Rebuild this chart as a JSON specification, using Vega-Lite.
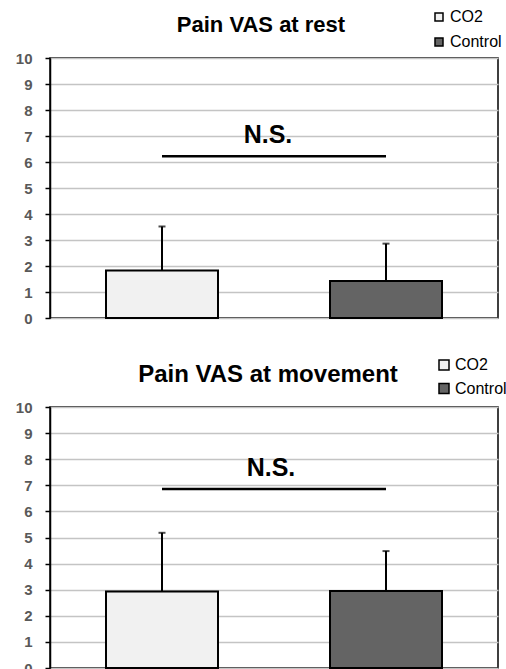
{
  "$schema": "https://vega.github.io/schema/vega-lite/v6.json",
  "padding": {"left": 14, "top": 8, "right": 0, "bottom": 0},
  "spacing": {"row": 29, "column": 0},
  "columns": 1,
  "align": "none",
  "resolve": {"scale": {"fill": "independent"}, "legend": {"fill": "independent"}},
  "config": {
    "font": "Liberation Sans",
    "view": {"stroke": "#000000", "strokeWidth": 1.5},
    "legend": {
      "orient": "none",
      "title": null,
      "padding": 0,
      "labelFont": "Liberation Sans",
      "labelFontSize": 16,
      "labelColor": "#000000",
      "labelOffset": 3,
      "labelLimit": 200,
      "symbolType": "square",
      "symbolStrokeColor": "#000000",
      "symbolStrokeWidth": 1.5
    }
  },
  "datasets": {
    "rest": [
      {"group": "CO2", "mean": 1.83, "upper": 3.52},
      {"group": "Control", "mean": 1.42, "upper": 2.86}
    ],
    "restSig": [
      {"from": "CO2", "to": "Control", "line": 6.22, "labelY": 6.72, "label": "N.S."}
    ],
    "movement": [
      {"group": "CO2", "mean": 2.93, "upper": 5.18},
      {"group": "Control", "mean": 2.95, "upper": 4.48}
    ],
    "movementSig": [
      {"from": "CO2", "to": "Control", "line": 6.86, "labelY": 7.36, "label": "N.S."}
    ]
  },
  "concat": [
    {
      "width": 448,
      "height": 260,
      "title": {"text": "Pain VAS at rest", "fontSize": 22, "fontWeight": "bold", "color": "#000000", "frame": "group", "anchor": "middle", "baseline": "alphabetic", "offset": -45, "dx": -13},
      "layer": [
        {
          "data": {"name": "rest"},
          "mark": {"type": "bar", "stroke": "#000000", "strokeWidth": 2},
          "encoding": {
            "x": {"field": "group", "type": "nominal", "scale": {"domain": ["CO2", "Control"], "paddingInner": 0.5, "paddingOuter": 0.25}, "axis": null},
            "y": {"field": "mean", "type": "quantitative", "stack": null, "scale": {"domain": [0, 10], "nice": false},
              "axis": {"title": null, "values": [0, 1, 2, 3, 4, 5, 6, 7, 8, 9, 10], "grid": true, "gridColor": "#c4c4c4", "gridWidth": 1.5, "domainColor": "#000000", "domainWidth": 1.5, "tickColor": "#000000", "tickSize": 5, "tickWidth": 1.5, "labelFont": "Liberation Sans", "labelFontSize": 15, "labelFontWeight": "bold", "labelColor": "#595959", "labelPadding": 13, "labelOverlap": false}},
            "fill": {"field": "group", "type": "nominal", "scale": {"domain": ["CO2", "Control"], "range": ["#f1f1f1", "#646464"]}, "legend": {"legendX": 381, "legendY": -49, "symbolSize": 64, "rowPadding": 9}}
          }
        },
        {
          "data": {"name": "rest"},
          "mark": {"type": "rule", "color": "#000000", "strokeWidth": 2},
          "encoding": {
            "x": {"field": "group", "type": "nominal", "axis": null},
            "y": {"field": "mean", "type": "quantitative",
              "axis": {"title": null, "values": [0, 1, 2, 3, 4, 5, 6, 7, 8, 9, 10], "grid": true, "gridColor": "#c4c4c4", "gridWidth": 1.5, "domainColor": "#000000", "domainWidth": 1.5, "tickColor": "#000000", "tickSize": 5, "tickWidth": 1.5, "labelFont": "Liberation Sans", "labelFontSize": 15, "labelFontWeight": "bold", "labelColor": "#595959", "labelPadding": 13, "labelOverlap": false}},
            "y2": {"field": "upper"}
          }
        },
        {
          "data": {"name": "rest"},
          "mark": {"type": "tick", "color": "#000000", "size": 7, "thickness": 2},
          "encoding": {
            "x": {"field": "group", "type": "nominal", "axis": null},
            "y": {"field": "upper", "type": "quantitative",
              "axis": {"title": null, "values": [0, 1, 2, 3, 4, 5, 6, 7, 8, 9, 10], "grid": true, "gridColor": "#c4c4c4", "gridWidth": 1.5, "domainColor": "#000000", "domainWidth": 1.5, "tickColor": "#000000", "tickSize": 5, "tickWidth": 1.5, "labelFont": "Liberation Sans", "labelFontSize": 15, "labelFontWeight": "bold", "labelColor": "#595959", "labelPadding": 13, "labelOverlap": false}}
          }
        },
        {
          "data": {"name": "restSig"},
          "mark": {"type": "rule", "color": "#000000", "strokeWidth": 2.5},
          "encoding": {
            "x": {"field": "from", "type": "nominal", "axis": null},
            "x2": {"field": "to"},
            "y": {"field": "line", "type": "quantitative",
              "axis": {"title": null, "values": [0, 1, 2, 3, 4, 5, 6, 7, 8, 9, 10], "grid": true, "gridColor": "#c4c4c4", "gridWidth": 1.5, "domainColor": "#000000", "domainWidth": 1.5, "tickColor": "#000000", "tickSize": 5, "tickWidth": 1.5, "labelFont": "Liberation Sans", "labelFontSize": 15, "labelFontWeight": "bold", "labelColor": "#595959", "labelPadding": 13, "labelOverlap": false}}
          }
        },
        {
          "data": {"name": "restSig"},
          "mark": {"type": "text", "fontSize": 25, "fontWeight": "bold", "color": "#000000", "baseline": "alphabetic", "align": "center", "dx": -6},
          "encoding": {
            "y": {"field": "labelY", "type": "quantitative",
              "axis": {"title": null, "values": [0, 1, 2, 3, 4, 5, 6, 7, 8, 9, 10], "grid": true, "gridColor": "#c4c4c4", "gridWidth": 1.5, "domainColor": "#000000", "domainWidth": 1.5, "tickColor": "#000000", "tickSize": 5, "tickWidth": 1.5, "labelFont": "Liberation Sans", "labelFontSize": 15, "labelFontWeight": "bold", "labelColor": "#595959", "labelPadding": 13, "labelOverlap": false}},
            "text": {"field": "label"}
          }
        }
      ]
    },
    {
      "width": 448,
      "height": 261,
      "title": {"text": "Pain VAS at movement", "fontSize": 24, "fontWeight": "bold", "color": "#000000", "frame": "group", "anchor": "middle", "baseline": "alphabetic", "offset": -49, "dx": -6},
      "layer": [
        {
          "data": {"name": "movement"},
          "mark": {"type": "bar", "stroke": "#000000", "strokeWidth": 2},
          "encoding": {
            "x": {"field": "group", "type": "nominal", "scale": {"domain": ["CO2", "Control"], "paddingInner": 0.5, "paddingOuter": 0.25}, "axis": null},
            "y": {"field": "mean", "type": "quantitative", "stack": null, "scale": {"domain": [0, 10], "nice": false},
              "axis": {"title": null, "values": [0, 1, 2, 3, 4, 5, 6, 7, 8, 9, 10], "grid": true, "gridColor": "#c4c4c4", "gridWidth": 1.5, "domainColor": "#000000", "domainWidth": 1.5, "tickColor": "#000000", "tickSize": 5, "tickWidth": 1.5, "labelFont": "Liberation Sans", "labelFontSize": 15, "labelFontWeight": "bold", "labelColor": "#595959", "labelPadding": 13, "labelOverlap": false}},
            "fill": {"field": "group", "type": "nominal", "scale": {"domain": ["CO2", "Control"], "range": ["#f1f1f1", "#646464"]}, "legend": {"legendX": 386, "legendY": -50, "symbolSize": 100, "rowPadding": 7.5}}
          }
        },
        {
          "data": {"name": "movement"},
          "mark": {"type": "rule", "color": "#000000", "strokeWidth": 2},
          "encoding": {
            "x": {"field": "group", "type": "nominal", "axis": null},
            "y": {"field": "mean", "type": "quantitative",
              "axis": {"title": null, "values": [0, 1, 2, 3, 4, 5, 6, 7, 8, 9, 10], "grid": true, "gridColor": "#c4c4c4", "gridWidth": 1.5, "domainColor": "#000000", "domainWidth": 1.5, "tickColor": "#000000", "tickSize": 5, "tickWidth": 1.5, "labelFont": "Liberation Sans", "labelFontSize": 15, "labelFontWeight": "bold", "labelColor": "#595959", "labelPadding": 13, "labelOverlap": false}},
            "y2": {"field": "upper"}
          }
        },
        {
          "data": {"name": "movement"},
          "mark": {"type": "tick", "color": "#000000", "size": 7, "thickness": 2},
          "encoding": {
            "x": {"field": "group", "type": "nominal", "axis": null},
            "y": {"field": "upper", "type": "quantitative",
              "axis": {"title": null, "values": [0, 1, 2, 3, 4, 5, 6, 7, 8, 9, 10], "grid": true, "gridColor": "#c4c4c4", "gridWidth": 1.5, "domainColor": "#000000", "domainWidth": 1.5, "tickColor": "#000000", "tickSize": 5, "tickWidth": 1.5, "labelFont": "Liberation Sans", "labelFontSize": 15, "labelFontWeight": "bold", "labelColor": "#595959", "labelPadding": 13, "labelOverlap": false}}
          }
        },
        {
          "data": {"name": "movementSig"},
          "mark": {"type": "rule", "color": "#000000", "strokeWidth": 2.5},
          "encoding": {
            "x": {"field": "from", "type": "nominal", "axis": null},
            "x2": {"field": "to"},
            "y": {"field": "line", "type": "quantitative",
              "axis": {"title": null, "values": [0, 1, 2, 3, 4, 5, 6, 7, 8, 9, 10], "grid": true, "gridColor": "#c4c4c4", "gridWidth": 1.5, "domainColor": "#000000", "domainWidth": 1.5, "tickColor": "#000000", "tickSize": 5, "tickWidth": 1.5, "labelFont": "Liberation Sans", "labelFontSize": 15, "labelFontWeight": "bold", "labelColor": "#595959", "labelPadding": 13, "labelOverlap": false}}
          }
        },
        {
          "data": {"name": "movementSig"},
          "mark": {"type": "text", "fontSize": 25, "fontWeight": "bold", "color": "#000000", "baseline": "alphabetic", "align": "center", "dx": -3},
          "encoding": {
            "y": {"field": "labelY", "type": "quantitative",
              "axis": {"title": null, "values": [0, 1, 2, 3, 4, 5, 6, 7, 8, 9, 10], "grid": true, "gridColor": "#c4c4c4", "gridWidth": 1.5, "domainColor": "#000000", "domainWidth": 1.5, "tickColor": "#000000", "tickSize": 5, "tickWidth": 1.5, "labelFont": "Liberation Sans", "labelFontSize": 15, "labelFontWeight": "bold", "labelColor": "#595959", "labelPadding": 13, "labelOverlap": false}},
            "text": {"field": "label"}
          }
        }
      ]
    }
  ]
}
